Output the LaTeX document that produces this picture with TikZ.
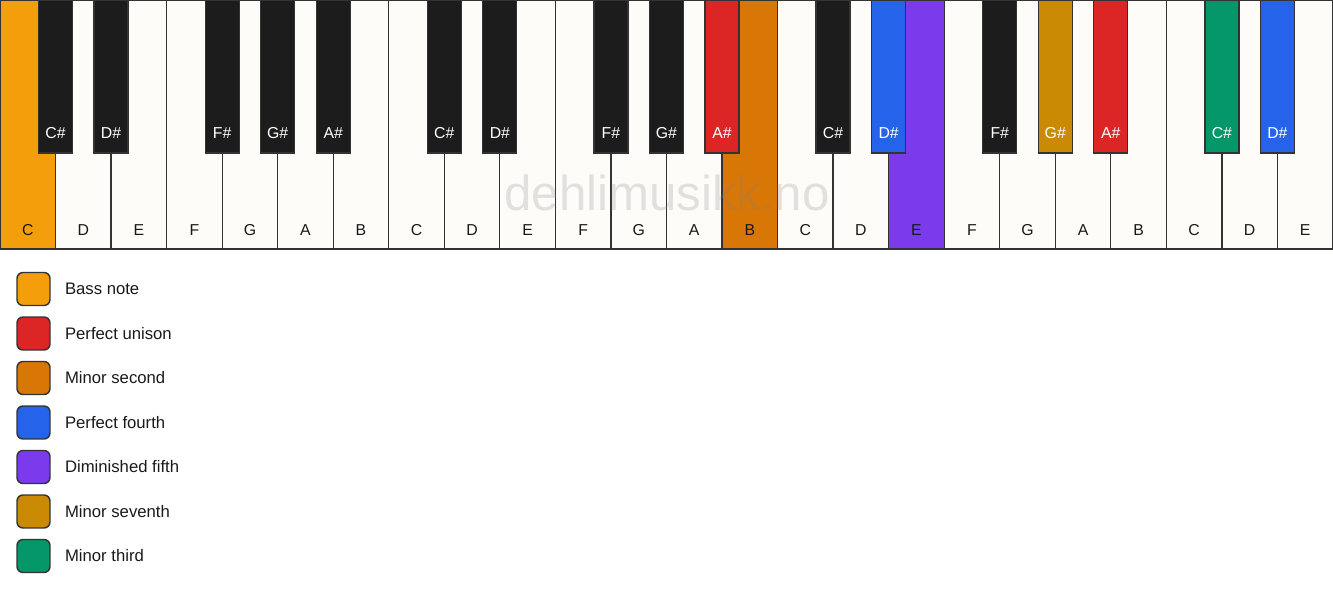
\documentclass[tikz,border=0pt]{standalone}
\usepackage{fontspec}
\setmainfont{Liberation Sans}
\usetikzlibrary{positioning}
\definecolor{keyline}{HTML}{333333}
\definecolor{ivory}{HTML}{FDFCF9}
\definecolor{ebony}{HTML}{1C1C1C}
\definecolor{bass}{HTML}{F59E0B}
\definecolor{unison}{HTML}{DC2626}
\definecolor{minsec}{HTML}{D97706}
\definecolor{fourth}{HTML}{2563EB}
\definecolor{dimfifth}{HTML}{7C3AED}
\definecolor{minsev}{HTML}{CA8A04}
\definecolor{minthird}{HTML}{059669}
\tikzset{
  whitekey/.style={draw=keyline, line width=0.7pt, anchor=north west,
    minimum width=1.1108cm, minimum height=4.98cm, inner sep=0pt, outer sep=0pt},
  blackkey/.style={draw=keyline, line width=0.7pt, anchor=north,
    minimum width=0.68cm, minimum height=3.06cm, inner sep=0pt, outer sep=0pt},
  keyname/.style={font=\fontsize{9pt}{11pt}\selectfont, text=black!90},
  sharpname/.style={font=\fontsize{9pt}{11pt}\selectfont, text=white},
  swatch/.style={draw=keyline, line width=0.8pt, rounded corners=3.4pt,
    minimum size=0.66cm, inner sep=0pt},
  legtext/.style={font=\fontsize{9.5pt}{12pt}\selectfont, text=black!90, inner sep=0pt},
  stamp/.style={font=\fontsize{28pt}{30pt}\selectfont, text=gray, opacity=0.22}
}
\begin{document}
\begin{tikzpicture}[x=0.02cm,y=-0.02cm]
  \useasboundingbox (0,0) rectangle (1333,594);
  % white keys
  \foreach \n/\c [count=\i from 0] in {C/bass,D/ivory,E/ivory,F/ivory,G/ivory,A/ivory,B/ivory,
      C/ivory,D/ivory,E/ivory,F/ivory,G/ivory,A/ivory,B/minsec,
      C/ivory,D/ivory,E/dimfifth,F/ivory,G/ivory,A/ivory,B/ivory,
      C/ivory,D/ivory,E/ivory}{
    \node[whitekey, fill=\c] (w\i) at (55.54*\i,0) {};
    \node[keyname] (wn\i) at (55.54*\i+27.77,230) {\n};
  }
  % black keys
  \foreach \k/\n/\c in {1/C/ebony,2/D/ebony,4/F/ebony,5/G/ebony,6/A/ebony,
      8/C/ebony,9/D/ebony,11/F/ebony,12/G/ebony,13/A/unison,
      15/C/ebony,16/D/fourth,18/F/ebony,19/G/minsev,20/A/unison,
      22/C/minthird,23/D/fourth}{
    \node[blackkey, fill=\c] (b\k) at (55.54*\k,0) {};
    \node[sharpname] (bn\k) at (55.54*\k,133) {\n\#};
  }
  \node[stamp] (wm) at (667,193) {dehlimusikk.no};
  % legend
  \foreach \c/\t [count=\i from 0] in {bass/Bass note, unison/Perfect unison,
      minsec/Minor second, fourth/Perfect fourth, dimfifth/Diminished fifth,
      minsev/Minor seventh, minthird/Minor third}{
    \node[swatch, fill=\c] (s\i) at (33.5,289+44.5*\i) {};
    \node[legtext, right=0.28cm of s\i] (t\i) {\t};
  }
\end{tikzpicture}
\end{document}
